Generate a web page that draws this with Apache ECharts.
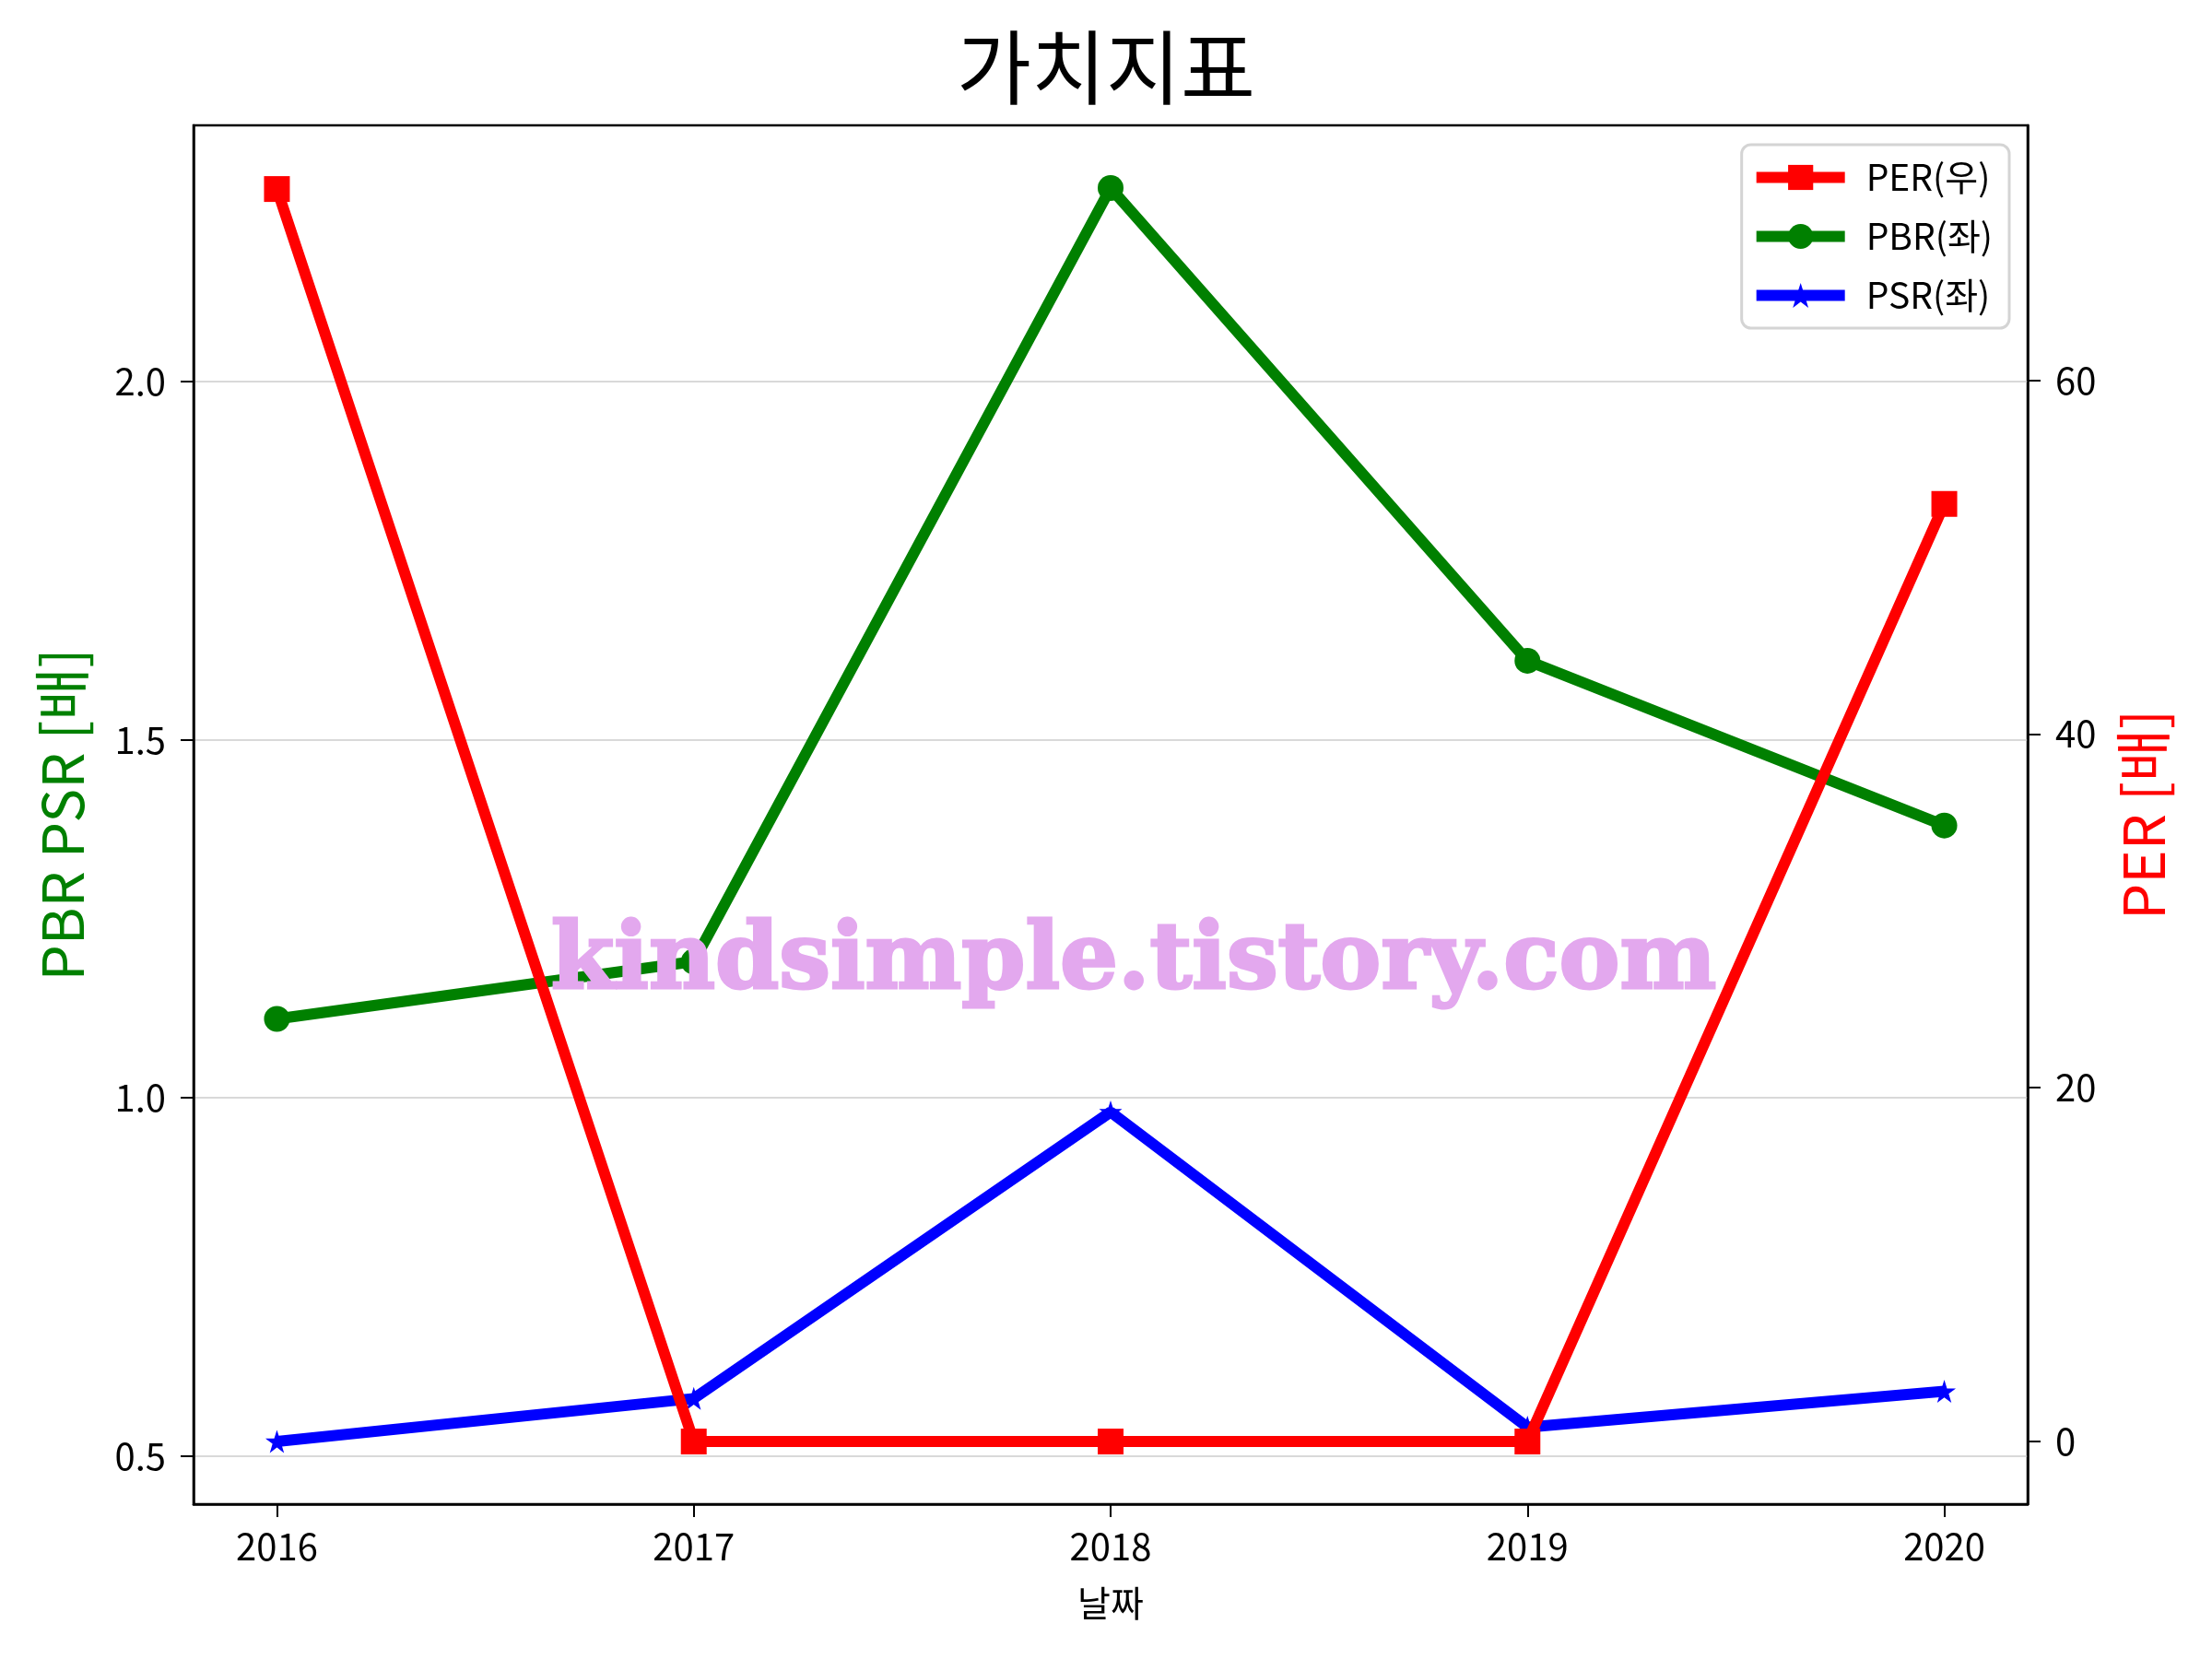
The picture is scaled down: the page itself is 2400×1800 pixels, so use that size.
<!DOCTYPE html>
<html>
<head>
<meta charset="utf-8">
<script src="https://cdn.jsdelivr.net/npm/echarts@6/dist/echarts.min.js"></script>
<style>
  html, body { margin: 0; padding: 0; background: #fff; }
  #chart { width: 2400px; height: 1800px; }
</style>
</head>
<body>
<div id="chart"></div>
<script>
// 연도, 가치지표 값
const years = [2016, 2017, 2018, 2019, 2020];
const perValues = [70.8, 0, 0, 0, 53.0];
const pbrValues = [1.11, 1.19, 2.27, 1.61, 1.38];
const psrValues = [0.52, 0.58, 0.98, 0.54, 0.59];
const leftTicks = [0.5, 1.0, 1.5, 2.0];
const rightTicks = [0, 20, 40, 60];

const FONT = '"Noto Sans CJK KR", "Noto Sans", sans-serif';
const STAR = 'path://M50,0 L61.8,35.4 L100,35.4 L69.1,57.3 L80.9,95.1 L50,72.4 L19.1,95.1 L30.9,57.3 L0,35.4 L38.2,35.4 Z';

function pairs(vals) {
  return years.map((y, i) => [y, vals[i]]);
}

const chart = echarts.init(document.getElementById('chart'));

const option = {
  backgroundColor: '#ffffff',
  animation: false,
  textStyle: { fontFamily: FONT },
  title: {
    text: '가치지표',
    left: 'center',
    top: 24,
    textStyle: { fontFamily: FONT, fontSize: 88, fontWeight: 'normal', color: '#000' }
  },
  grid: {
    left: 210, right: 200, top: 136, bottom: 168,
    show: true, borderColor: '#000', borderWidth: 2.5, backgroundColor: 'transparent'
  },
  legend: {
    orient: 'vertical',
    right: 220,
    top: 157,
    padding: [16, 18, 16, 10],
    itemWidth: 96,
    itemHeight: 34,
    itemGap: 25,
    backgroundColor: '#fff',
    borderColor: '#d4d4d4',
    borderWidth: 3,
    borderRadius: 10,
    lineStyle: { width: 12 },
    textStyle: { fontFamily: FONT, fontSize: 39, color: '#000', padding: [0, 0, 0, 18] },
    data: ['PER(우)', 'PBR(좌)', 'PSR(좌)']
  },
  xAxis: {
    type: 'value',
    min: 2015.8,
    max: 2020.2,
    name: '날짜',
    nameLocation: 'middle',
    nameGap: 88,
    nameTextStyle: { fontFamily: FONT, fontSize: 39, color: '#000' },
    axisLine: { show: true, onZero: false, lineStyle: { color: '#000', width: 2.5 } },
    axisTick: { show: true, length: 14, lineStyle: { color: '#000', width: 2 }, customValues: years },
    axisLabel: { fontFamily: FONT, fontSize: 40, color: '#000', margin: 26, customValues: years,
                 formatter: v => String(v) },
    splitLine: { show: false }
  },
  yAxis: [
    {
      type: 'value',
      position: 'left',
      min: 0.4325,
      max: 2.3575,
      name: 'PBR PSR [배]',
      nameLocation: 'middle',
      nameGap: 112,
      nameRotate: 90,
      nameTextStyle: { fontFamily: FONT, fontSize: 62, color: '#008000' },
      axisLine: { show: true, lineStyle: { color: '#000', width: 2.5 } },
      axisTick: { show: true, length: 14, lineStyle: { color: '#000', width: 2 }, customValues: leftTicks },
      axisLabel: { fontFamily: FONT, fontSize: 40, color: '#000', margin: 30, customValues: leftTicks,
                   formatter: v => v.toFixed(1) },
      splitLine: { show: true, lineStyle: { color: '#cccccc', width: 1.5 } }
    },
    {
      type: 'value',
      position: 'right',
      min: -3.54,
      max: 74.4,
      name: 'PER [배]',
      nameLocation: 'middle',
      nameGap: 94,
      nameRotate: 90,
      nameTextStyle: { fontFamily: FONT, fontSize: 62, color: '#ff0000' },
      axisLine: { show: true, lineStyle: { color: '#000', width: 2.5 } },
      axisTick: { show: true, length: 14, lineStyle: { color: '#000', width: 2 }, customValues: rightTicks },
      axisLabel: { fontFamily: FONT, fontSize: 40, color: '#000', margin: 30, customValues: rightTicks },
      splitLine: { show: false }
    }
  ],
  series: [
    {
      name: 'PER(우)',
      type: 'line',
      yAxisIndex: 1,
      data: pairs(perValues),
      symbol: 'rect',
      symbolSize: 28,
      z: 4,
      itemStyle: { color: '#ff0000' },
      lineStyle: { color: '#ff0000', width: 12 }
    },
    {
      name: 'PBR(좌)',
      type: 'line',
      yAxisIndex: 0,
      data: pairs(pbrValues),
      symbol: 'circle',
      symbolSize: 28,
      z: 3,
      itemStyle: { color: '#008000' },
      lineStyle: { color: '#008000', width: 12 }
    },
    {
      name: 'PSR(좌)',
      type: 'line',
      yAxisIndex: 0,
      data: pairs(psrValues),
      symbol: STAR,
      symbolSize: 25,
      z: 3,
      itemStyle: { color: '#0000ff' },
      lineStyle: { color: '#0000ff', width: 12 }
    }
  ],
  graphic: [
    {
      type: 'text',
      z: 100,
      x: 1230,
      y: 1046,
      style: {
        text: 'kindsimple.tistory.com',
        fontFamily: '"DejaVu Serif", serif',
        fontWeight: 'bold',
        fontSize: 99,
        fill: '#e3a8ee',
        stroke: '#e3a8ee',
        lineWidth: 3,
        align: 'center',
        verticalAlign: 'middle'
      }
    }
  ]
};

chart.setOption(option);
</script>
</body>
</html>
